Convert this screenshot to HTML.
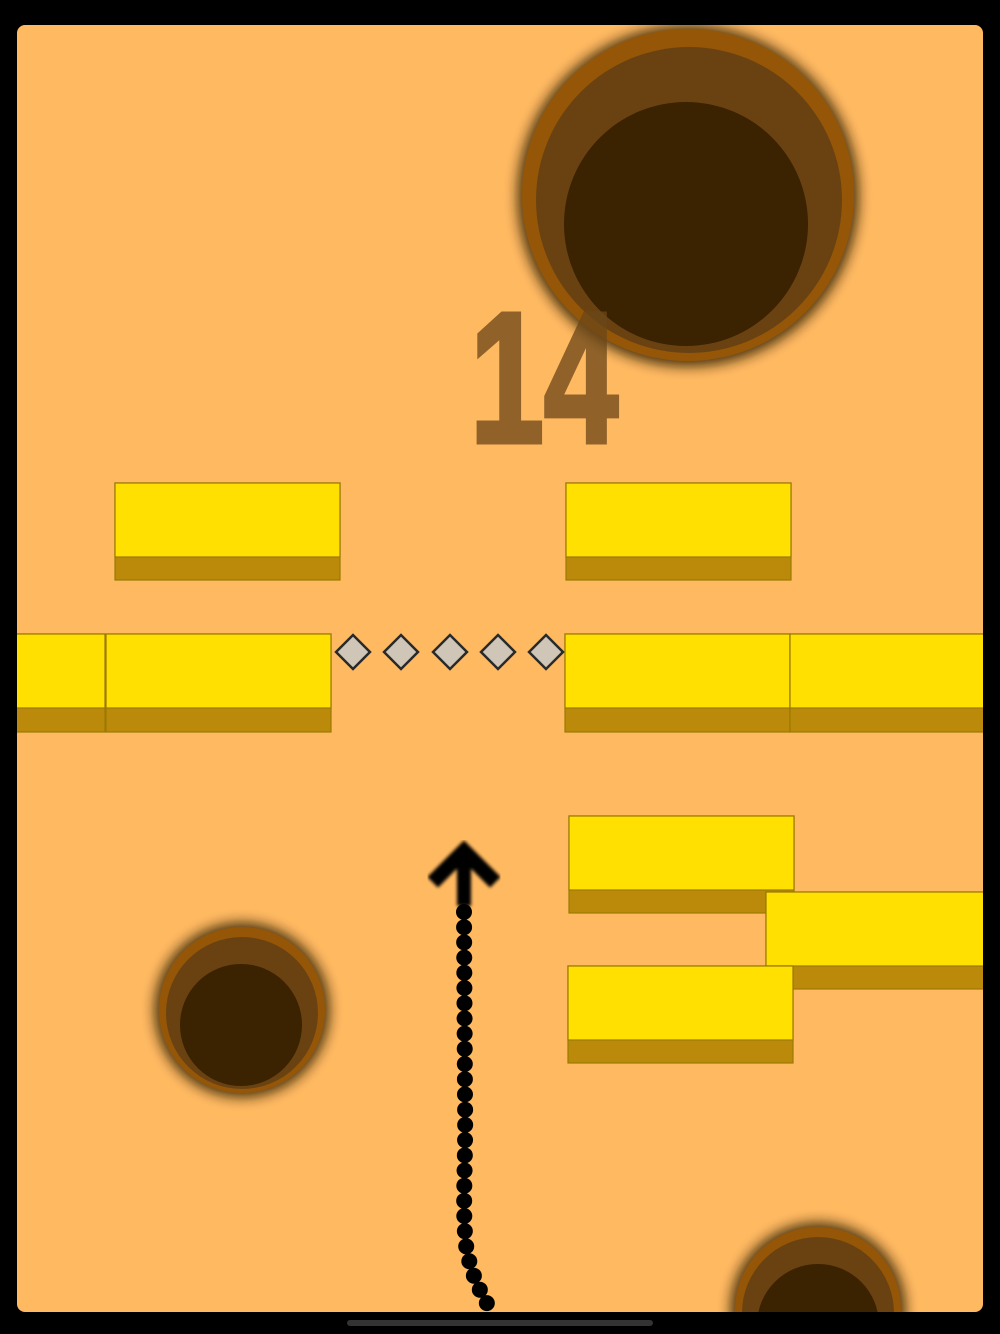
<!DOCTYPE html>
<html><head><meta charset="utf-8"><style>
html,body{margin:0;padding:0;background:#000;}
svg{display:block}
</style></head><body>
<svg width="1000" height="1334" viewBox="0 0 1000 1334" xmlns="http://www.w3.org/2000/svg">
<defs>
<filter id="sh" x="-30%" y="-30%" width="160%" height="160%"><feGaussianBlur stdDeviation="6"/></filter>
<filter id="bl" x="-20%" y="-20%" width="140%" height="140%"><feGaussianBlur stdDeviation="1.5"/></filter>
<clipPath id="pc"><rect x="17" y="25" width="966" height="1287" rx="8"/></clipPath>
</defs>
<rect width="1000" height="1334" fill="#000"/>
<rect x="17" y="25" width="966" height="1287" rx="8" fill="#FFB961"/>
<g clip-path="url(#pc)">
<circle cx="688" cy="196" r="171" fill="#2a1a00" opacity="0.8" filter="url(#sh)"/>
<circle cx="688" cy="195" r="166" fill="#955707"/>
<circle cx="689" cy="200" r="153" fill="#6a4212"/>
<circle cx="686" cy="224" r="122" fill="#3b2200"/>
<circle cx="242" cy="1010" r="88" fill="#2a1a00" opacity="0.8" filter="url(#sh)"/>
<circle cx="242" cy="1010" r="83" fill="#955707"/>
<circle cx="242" cy="1013" r="76" fill="#6a4212"/>
<circle cx="241" cy="1025" r="61" fill="#3b2200"/>
<circle cx="818" cy="1310" r="88" fill="#2a1a00" opacity="0.8" filter="url(#sh)"/>
<circle cx="818" cy="1310" r="83" fill="#955707"/>
<circle cx="818" cy="1313" r="76" fill="#6a4212"/>
<circle cx="818" cy="1325" r="61" fill="#3b2200"/>
<text x="470" y="442" font-family="Liberation Sans Narrow, Liberation Sans, sans-serif" font-weight="bold" font-size="186" fill="#6b4618" stroke="#6b4618" stroke-width="5" opacity="0.75" textLength="148" lengthAdjust="spacingAndGlyphs">14</text>
<g stroke="#9a7a00" stroke-width="1.2">
<rect x="115" y="483" width="225" height="97" fill="#BC8A0A"/><rect x="115" y="483" width="225" height="74" fill="#FFE000"/>
<rect x="566" y="483" width="225" height="97" fill="#BC8A0A"/><rect x="566" y="483" width="225" height="74" fill="#FFE000"/>
<rect x="-120" y="634" width="225" height="98" fill="#BC8A0A"/><rect x="-120" y="634" width="225" height="74" fill="#FFE000"/>
<rect x="106" y="634" width="225" height="98" fill="#BC8A0A"/><rect x="106" y="634" width="225" height="74" fill="#FFE000"/>
<rect x="565" y="634" width="225" height="98" fill="#BC8A0A"/><rect x="565" y="634" width="225" height="74" fill="#FFE000"/>
<rect x="790" y="634" width="225" height="98" fill="#BC8A0A"/><rect x="790" y="634" width="225" height="74" fill="#FFE000"/>
<rect x="569" y="816" width="225" height="97" fill="#BC8A0A"/><rect x="569" y="816" width="225" height="74" fill="#FFE000"/>
<rect x="766" y="892" width="250" height="97" fill="#BC8A0A"/><rect x="766" y="892" width="250" height="74" fill="#FFE000"/>
<rect x="568" y="966" width="225" height="97" fill="#BC8A0A"/><rect x="568" y="966" width="225" height="74" fill="#FFE000"/>
</g>
<g stroke="#2a2a2a" stroke-width="2.5" fill="#cfc6b8">
<rect x="341" y="640" width="24" height="24" transform="rotate(45 353 652)"/>
<rect x="389" y="640" width="24" height="24" transform="rotate(45 401 652)"/>
<rect x="438" y="640" width="24" height="24" transform="rotate(45 450 652)"/>
<rect x="486" y="640" width="24" height="24" transform="rotate(45 498 652)"/>
<rect x="534" y="640" width="24" height="24" transform="rotate(45 546 652)"/>
</g>
<g filter="url(#bl)">
<polyline points="438,877 464,851 490,877" fill="none" stroke="#000" stroke-width="15" stroke-linecap="square"/>
<line x1="464" y1="854" x2="464" y2="906" stroke="#000" stroke-width="14"/>
</g>
<path d="M464,912 L465,1100 C466,1160 462,1210 466,1245 C470,1272 480,1292 492,1312" fill="none" stroke="#000" stroke-width="16" stroke-linecap="round" stroke-dasharray="0 15.2"/>
</g>
<rect x="347" y="1320" width="306" height="6" rx="3" fill="#333"/>
</svg>
</body></html>
